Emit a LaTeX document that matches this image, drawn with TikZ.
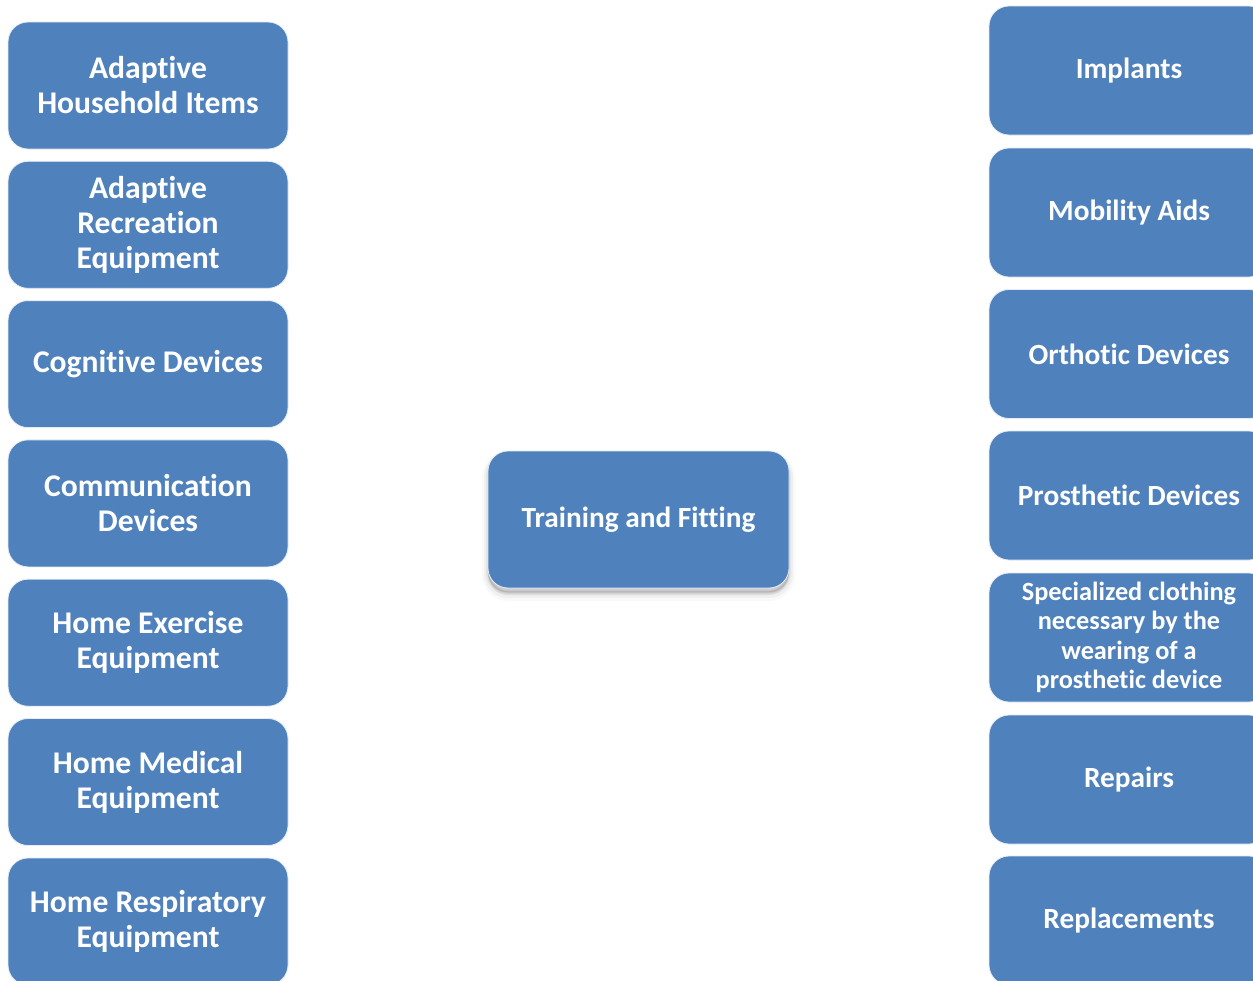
\documentclass[tikz,border=0pt]{standalone}
\usepackage{fontspec}
\setmainfont[Ligatures=NoCommon]{Carlito}
\definecolor{boxblue}{HTML}{4F81BD}
\tikzset{
  card/.style={draw=white!85!boxblue, line width=0.8pt, fill=boxblue, text=white, rounded corners=20pt,
    align=flush center, inner sep=0pt, font=\bfseries},
  leftcard/.style={card, minimum width=280pt, minimum height=127pt, text width=270pt,
    font=\bfseries\fontsize{31.6}{35}\selectfont},
  rightcard/.style={card, minimum width=280pt, minimum height=129pt, text width=270pt,
    font=\bfseries\fontsize{29.3}{33}\selectfont},
  smallcard/.style={rightcard, font=\bfseries\fontsize{26.3}{29.5}\selectfont},
  softshadow/.style={
    preaction={draw=black, fill=black, draw opacity=0.025, fill opacity=0.025, line width=12pt, transform canvas={yshift=-7pt}},
    preaction={draw=black, fill=black, draw opacity=0.035, fill opacity=0.035, line width=8pt, transform canvas={yshift=-6pt}},
    preaction={draw=black, fill=black, draw opacity=0.05, fill opacity=0.05, line width=4pt, transform canvas={yshift=-5pt}},
    preaction={draw=black, fill=black, draw opacity=0.06, fill opacity=0.06, line width=1pt, transform canvas={yshift=-4pt}}},
  centercard/.style={card, minimum width=301pt, minimum height=137pt, text width=290pt,
    font=\bfseries\fontsize{29.3}{33}\selectfont, softshadow}
}
\begin{document}
\begin{tikzpicture}[x=1pt,y=-1pt]
\useasboundingbox (0,0) rectangle (1253,980);
\clip (0,0) rectangle (1253,980);
\fill[white] (0,0) rectangle (1253,980);
% left column
\node[leftcard] (l1) at (148,85.5)  {Adaptive\\Household Items};
\node[leftcard] (l2) at (148,224.8) {Adaptive\\Recreation\\Equipment};
\node[leftcard] (l3) at (148,364.1) {Cognitive Devices};
\node[leftcard] (l4) at (148,503.4) {Communication\\Devices};
\node[leftcard] (l5) at (148,642.7) {Home Exercise\\Equipment};
\node[leftcard] (l6) at (148,782)   {Home Medical\\Equipment};
\node[leftcard] (l7) at (148,921.5) {Home Respiratory\\Equipment};
% centre
\node[centercard] (c) at (638.5,519.5) {Training and Fitting};
% right column
\node[rightcard] (r1) at (1129,70.5)  {Implants};
\node[rightcard] (r2) at (1129,212.5) {Mobility Aids};
\node[rightcard] (r3) at (1129,354)   {Orthotic Devices};
\node[rightcard] (r4) at (1129,495.5) {Prosthetic Devices};
\node[smallcard] (r5) at (1129,637.5) {Specialized clothing\\necessary by the\\wearing of a\\prosthetic device};
\node[rightcard] (r6) at (1129,779.5) {Repairs};
\node[rightcard] (r7) at (1129,920.5) {Replacements};
\end{tikzpicture}
\end{document}
